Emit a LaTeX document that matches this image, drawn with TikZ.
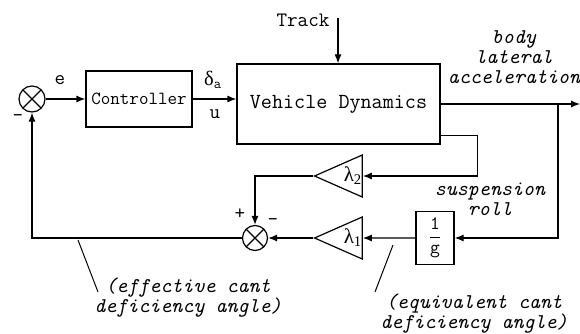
\documentclass[tikz,border=0pt]{standalone}
\usepackage{fontspec}
\newfontfamily\grk{Liberation Serif}
\usetikzlibrary{arrows.meta,shapes.geometric}
\begin{document}
\begin{tikzpicture}[x=1pt,y=-1pt,line width=1.2pt,>={Latex[length=9pt,width=7pt]},
  every node/.style={font=\ttfamily\fontsize{20.5}{20}\selectfont},
  block/.style={draw,rectangle,inner sep=0pt},
  summer/.style={draw,circle,minimum size=26pt,inner sep=0pt,
    path picture={\draw (path picture bounding box.north west) -- (path picture bounding box.south east)
      (path picture bounding box.north east) -- (path picture bounding box.south west);}},
  gain/.style={draw,isosceles triangle,shape border rotate=180,isosceles triangle stretches,
    minimum width=42pt,minimum height=44pt,inner sep=0pt,anchor=apex,font=\grk\fontsize{21}{20}\selectfont},
  note/.style={align=center,font=\ttfamily\itshape\fontsize{21}{20}\selectfont}]
\useasboundingbox (0,0) rectangle (580,334);
\node[summer] (sum1) at (32,99) {};
\node[block,minimum width=106pt,minimum height=56pt,font=\ttfamily\fontsize{18.5}{18}\selectfont] (ctrl) at (139,99) {Controller};
\node[block,minimum width=203pt,minimum height=80pt,font=\ttfamily\fontsize{21.5}{20}\selectfont] (vd) at (338.5,104) {Vehicle Dynamics};
\node (track) at (303,20) {Track};
\coordinate (trk) at (338,18);
\coordinate (out) at (580,104);
\coordinate (br) at (558,104);
\node[block,minimum width=38pt,minimum height=53pt,font=\ttfamily\fontsize{19}{19}\selectfont] (gbox) at (435,238) {$\displaystyle\frac{\hbox{\ttfamily 1}}{\hbox{\ttfamily g}}$};
\node[gain] (lam2) at (313,176) {\hspace{8pt}λ\textsubscript{2}};
\node[gain] (lam1) at (313,238) {\hspace{8pt}λ\textsubscript{1}};
\node[summer,minimum size=25pt] (sum2) at (255,238) {};
% signs and signal names
\node (e) at (60,80) {e};
\node (minus1) at (18,118) {-};
\node (da) at (213,80) {{\grk δ}\textsubscript{a}};
\node (u) at (215,114) {u};
\node (plus2) at (240,214) {+};
\node (minus2) at (273,222) {-};
\node[note] (acc) at (514,57) {body\\lateral\\acceleration};
\node[note] (roll) at (490,199) {suspension\\roll};
\node[note] (eff) at (188,298) {(effective cant\\deficiency angle)};
\node[note] (equ) at (474,314) {(equivalent cant\\deficiency angle)};
\coordinate (effa) at (78,240);
\coordinate (effb) at (98,292);
\coordinate (equa) at (393,245);
\coordinate (equb) at (375,292);
% connectors
\draw[->] (sum1) -- (ctrl);
\draw[->] (ctrl) -- (ctrl -| vd.west);
\draw[->] (trk) -- (trk |- vd.north);
\draw[->] (vd) -- (out);
\draw[->] (br) |- (gbox);
\draw[->] ([yshift=9pt]vd.south east) -- ++(37,0) |- (lam2);
\draw[->] (gbox) -- (lam1);
\draw[->] (lam2.apex) -| (sum2);
\draw[->] (lam1.apex) -- (sum2);
\draw[->] (sum2) -| (sum1);
\draw[line width=1pt] (effa) -- (effb);
\draw[line width=1pt] (equa) -- (equb);
\end{tikzpicture}
\end{document}
